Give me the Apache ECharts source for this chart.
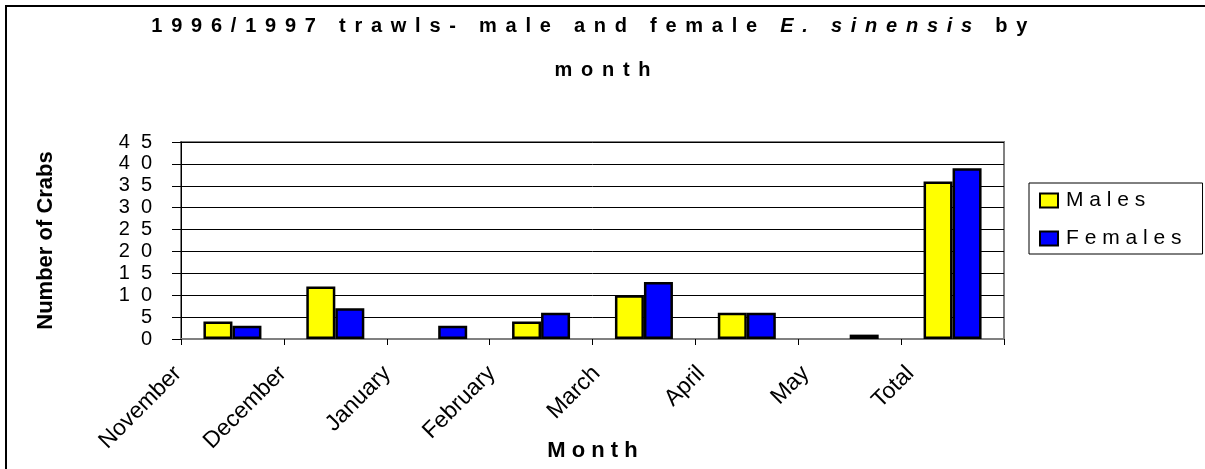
<!DOCTYPE html>
<html>
<head>
<meta charset="utf-8">
<script src="https://cdn.jsdelivr.net/npm/echarts@6/dist/echarts.min.js"></script>
<style>
  html, body { margin: 0; padding: 0; background: #fff; }
  #chart { width: 1205px; height: 469px; }
</style>
</head>
<body>
<div id="chart"></div>
<script>
// 数据
const months = ["November", "December", "January", "February", "March", "April", "May", "Total"];
const males = [4, 12, 0, 4, 10, 6, 0, 36];
const females = [3, 7, 3, 6, 13, 6, 1, 39];
const yTicks = [0, 5, 10, 15, 20, 25, 30, 35, 40, 45];

const FONT = "Liberation Sans, Arial, sans-serif";
// Excel 风格的字母间距
const sp = (s, g) => s.split("").join(g === undefined ? " " : g);
// 标题：每个字符之间插入一个 {g| } 空格，间距由 g 的字号控制
const rt = (s, style) =>
  s.split("").map((c) => "{" + style + "|" + c + "}").join("{g| }");

const titleText =
  rt("1996/1997 trawls- male and female ", "b") + "{g| }" +
  rt("E. sinensis", "i") + "{g| }" +
  rt(" by", "b") + "{g| }{g| }{g| }\n" + // 第一行末尾多留一点空，整体略偏左
  rt("month", "b");

const myChart = echarts.init(document.getElementById("chart"));
myChart.setOption({
  animation: false,
  backgroundColor: "#fff",
  title: {
    text: titleText,
    left: "center",
    top: 4,
    padding: 0,
    textStyle: {
      rich: {
        b: { fontFamily: FONT, fontSize: 20, fontWeight: "bold", color: "#000", lineHeight: 44 },
        i: { fontFamily: FONT, fontSize: 20, fontWeight: "bold", fontStyle: "italic", color: "#000", lineHeight: 44 },
        g: { fontFamily: FONT, fontSize: 31.5, color: "#000", lineHeight: 44 },
      },
    },
  },
  legend: {
    orient: "vertical",
    left: 1029,
    top: 183,
    padding: [7, 21, 5, 10],
    itemGap: 17,
    itemWidth: 18,
    itemHeight: 14,
    icon: "rect",
    borderColor: "#000",
    borderWidth: 1,
    itemStyle: { borderColor: "#000", borderWidth: 2 },
    formatter: (name) => sp(name),
    textStyle: { fontFamily: FONT, fontSize: 21, color: "#000", padding: [0, 0, 0, 3] },
    data: ["Males", "Females"],
  },
  grid: [
    {
      left: 181,
      right: 201,
      top: 142,
      bottom: 130,
      show: true,
      borderColor: "#808080",
      borderWidth: 2,
    },
    // 只用来放斜着的月份标签
    { left: 178, right: 190, top: 142, bottom: 130, show: false },
  ],
  xAxis: [
    {
      type: "category",
      data: months,
      gridIndex: 0,
      axisLine: { lineStyle: { color: "#808080", width: 2 } },
      axisTick: { show: true, length: 6, lineStyle: { color: "#000" } },
      axisLabel: { show: false },
      name: sp("Month"),
      nameLocation: "middle",
      nameGap: 101,
      nameTextStyle: { fontFamily: FONT, fontSize: 22, fontWeight: "bold", color: "#000" },
    },
    {
      type: "category",
      data: months.concat([""]),
      gridIndex: 1,
      boundaryGap: false,
      axisLine: { show: false },
      axisTick: { show: false },
      splitLine: { show: false },
      axisLabel: {
        rotate: 45,
        margin: 31,
        interval: 0,
        fontFamily: FONT,
        fontSize: 23,
        color: "#000",
      },
    },
  ],
  yAxis: [
    {
      type: "value",
      gridIndex: 0,
      min: yTicks[0],
      max: yTicks[yTicks.length - 1],
      interval: 5,
      axisLine: { show: true, lineStyle: { color: "#000", width: 1 } },
      axisTick: { show: true, length: 9, lineStyle: { color: "#000" } },
      splitLine: { lineStyle: { color: "#000", width: 1 } },
      axisLabel: {
        margin: 29,
        fontFamily: FONT,
        fontSize: 20,
        color: "#000",
        formatter: (v) => sp(String(v), "  "),
      },
      name: "Number of Crabs",
      nameLocation: "middle",
      nameGap: 124,
      nameTextStyle: { fontFamily: FONT, fontSize: 22, fontWeight: "bold", color: "#000" },
    },
    { type: "value", gridIndex: 1, show: false, min: 0, max: 45 },
  ],
  series: [
    {
      name: "Males",
      type: "bar",
      xAxisIndex: 0,
      yAxisIndex: 0,
      barWidth: 29,
      barGap: "0%",
      data: males.map((v) => (v === 0 ? "-" : v)),
      itemStyle: { color: "#FFFF00", borderColor: "#000", borderWidth: 2.5 },
    },
    {
      name: "Females",
      type: "bar",
      xAxisIndex: 0,
      yAxisIndex: 0,
      barWidth: 29,
      barGap: "0%",
      data: females.map((v) => (v === 0 ? "-" : v)),
      itemStyle: { color: "#0000FF", borderColor: "#000", borderWidth: 2.5 },
    },
  ],
  // 外框（上边和左边）
  graphic: [
    {
      type: "polyline",
      shape: { points: [[6, 469], [6, 6], [1205, 6]] },
      style: { stroke: "#000", lineWidth: 2, fill: null },
      silent: true,
    },
  ],
});
</script>
</body>
</html>
